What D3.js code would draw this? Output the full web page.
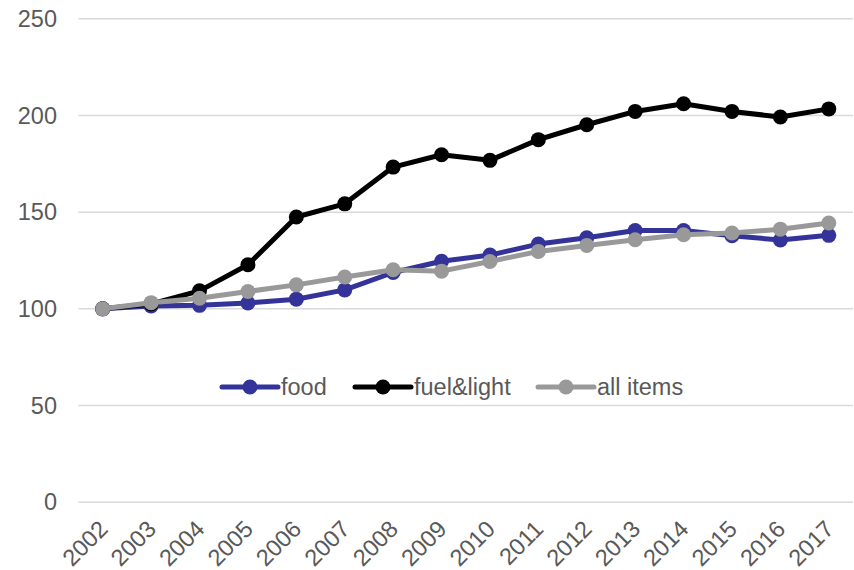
<!DOCTYPE html>
<html>
<head>
<meta charset="utf-8">
<script src="https://cdn.jsdelivr.net/npm/d3@7"></script>
<style>
  body { margin: 0; background: #fff; }
  text { font-family: "Liberation Sans", Arial, sans-serif; fill: #595959; }
</style>
</head>
<body>
<div id="chart"></div>
<script>
var years = ["2002", "2003", "2004", "2005", "2006", "2007", "2008", "2009",
    "2010", "2011", "2012", "2013", "2014", "2015", "2016", "2017"];
var food = [100, 101.5, 101.8, 103, 105, 109.8, 118.8, 124.6,
    127.8, 133.5, 136.8, 140.5, 140.5, 137.8, 135.6, 138];
var fuelLight = [100, 102.5, 109.3, 122.8, 147.5, 154.3, 173.3, 179.7,
    176.8, 187.5, 195.2, 202.1, 206.1, 202.1, 199.2, 203.4];
var allItems = [100, 103.2, 105.5, 109, 112.4, 116.5, 120.2, 119.5,
    124.5, 129.7, 132.8, 135.7, 138.3, 139.2, 141.2, 144.4];
var yTicks = [0, 50, 100, 150, 200, 250];

var series = [
    { name: "food", values: food, color: "#333399" },
    { name: "fuel&light", values: fuelLight, color: "#000000" },
    { name: "all items", values: allItems, color: "#999999" }
];

var width = 854, height = 570;
var plot = { left: 78.5, right: 853, top: 18.8, bottom: 502.2 };

var svg = d3.select("#chart").append("svg")
    .attr("width", width)
    .attr("height", height);

var x = d3.scaleBand()
    .domain(years)
    .range([plot.left, plot.right]);

var y = d3.scaleLinear()
    .domain([0, 250])
    .range([plot.bottom, plot.top]);

// horizontal gridlines
svg.append("g")
    .selectAll("line")
    .data(yTicks)
    .enter().append("line")
    .attr("x1", plot.left)
    .attr("x2", plot.right)
    .attr("y1", function (d) { return y(d); })
    .attr("y2", function (d) { return y(d); })
    .attr("stroke", "#d9d9d9")
    .attr("stroke-width", 1.5);

// y tick labels
svg.append("g")
    .selectAll("text")
    .data(yTicks)
    .enter().append("text")
    .attr("x", 57)
    .attr("y", function (d) { return y(d); })
    .attr("dy", "0.35em")
    .attr("text-anchor", "end")
    .style("font-size", "23.5px")
    .text(function (d) { return d; });

// x tick labels, rotated
svg.append("g")
    .selectAll("text")
    .data(years)
    .enter().append("text")
    .attr("transform", function (d) {
        var cx = x(d) + x.bandwidth() / 2 - 6;
        return "translate(" + cx + "," + 518 + ") rotate(-45)";
    })
    .attr("text-anchor", "end")
    .attr("dy", "0.75em")
    .style("font-size", "23.5px")
    .text(function (d) { return d; });

var line = d3.line()
    .x(function (d, i) { return x(years[i]) + x.bandwidth() / 2; })
    .y(function (d) { return y(d); });

var groups = svg.append("g")
    .selectAll("g")
    .data(series)
    .enter().append("g");

groups.append("path")
    .attr("d", function (s) { return line(s.values); })
    .attr("fill", "none")
    .attr("stroke", function (s) { return s.color; })
    .attr("stroke-width", 5)
    .attr("stroke-linejoin", "round");

groups.selectAll("circle")
    .data(function (s) { return s.values.map(function (v) { return { v: v, c: s.color }; }); })
    .enter().append("circle")
    .attr("cx", function (d, i) { return x(years[i]) + x.bandwidth() / 2; })
    .attr("cy", function (d) { return y(d.v); })
    .attr("r", 7.5)
    .attr("fill", function (d) { return d.c; });

// legend
var legendX = [222, 355, 538];
var legend = svg.append("g")
    .selectAll("g")
    .data(series)
    .enter().append("g")
    .attr("transform", function (s, i) { return "translate(" + legendX[i] + ",387)"; });

legend.append("line")
    .attr("x1", 0)
    .attr("x2", 56)
    .attr("stroke", function (s) { return s.color; })
    .attr("stroke-width", 5)
    .attr("stroke-linecap", "round");

legend.append("circle")
    .attr("cx", 28)
    .attr("r", 7.5)
    .attr("fill", function (s) { return s.color; });

legend.append("text")
    .attr("x", 59)
    .attr("dy", "0.35em")
    .style("font-size", "23.5px")
    .text(function (s) { return s.name; });
</script>
</body>
</html>
